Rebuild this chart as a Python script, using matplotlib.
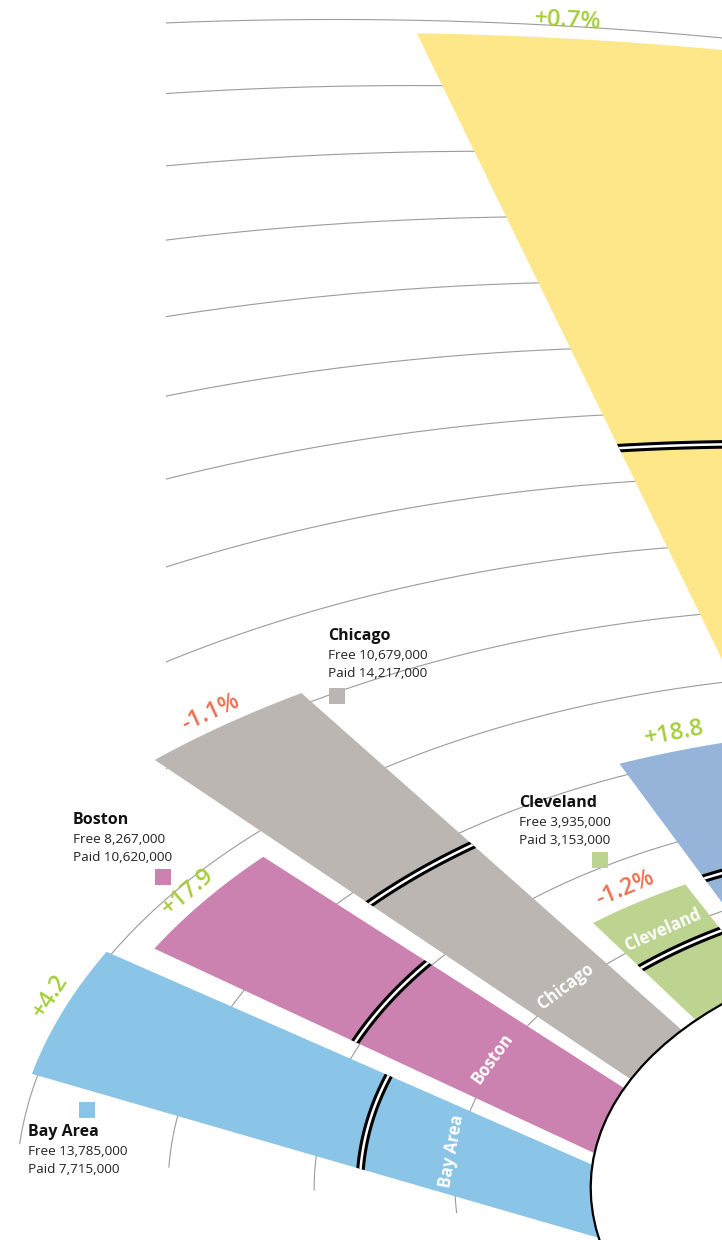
import numpy as np
import matplotlib
matplotlib.use("Agg")
import matplotlib.pyplot as plt
from matplotlib.patches import Polygon, Circle, Rectangle
from matplotlib.transforms import Transform

plt.rcParams['font.family'] = ['Open Sans', 'DejaVu Sans']

# visitors in millions (inner part = paid, whole wedge = paid + free)
cities = ["Bay Area", "Boston", "Chicago", "Cleveland", "", ""]
bar_total = [20.2, 18.85, 25.65, 7.3, 15.8, 69.0]
bar_paid = [8.4, 10.2, 14.1, 3.9, 7.3, 37.5]
change = ["+4.2", "+17.9", "-1.1%", "-1.2%", "+18.8", "+0.7%"]

# figures as printed next to the squares
free = [13785000, 8267000, 10679000, 3935000]
paid = [7715000, 10620000, 14217000, 3153000]

colors = ["#8ac4e6", "#cc82b1", "#bcb6b3", "#bdd490", "#96b4d9", "#fde789"]
green, red = "#a6cd3a", "#eb7152"

# angular span of each wedge (degrees around the wedge apex)
spans = [(44.63, 55.21), (56.84, 66.11), (67.42, 75.19), (76.91, 84.10),
         (85.45, 91.70), (93.05, 101.5)]
# where the change label sits along the outer edge (0 = first edge, 1 = second)
label_pos = [0.57, 0.5, 0.5, 0.5, 0.57, 0.44]

ring_step = 5.0                  # millions per ring
rings = np.arange(5, 75, 5)
r_zero = 3.92                    # radius of value 0 = edge of the hub
hub_r = 3.92
ring_c = np.array([-0.9146, 2.3881])   # centre of rings and hub

# the chart plane is seen tilted; this homography puts it on the page
tilt = np.array([[-131.0, -39.101, 1070.6],
                 [-2.0567, -66.781, 1374.5],
                 [-0.017741, 0.0, 1.0]])


class Tilt(Transform):
    input_dims = 2
    output_dims = 2
    is_separable = False

    def __init__(self, m):
        super().__init__()
        self.m = m

    def transform_non_affine(self, values):
        v = np.asarray(values, float)
        p = v @ self.m[:, :2].T + self.m[:, 2]
        return p[:, :2] / p[:, 2:3]


proj = Tilt(tilt)


def radius(val):
    return r_zero + np.asarray(val) / ring_step


def ray_hit(deg, R):
    e = np.array([np.cos(np.radians(deg)), np.sin(np.radians(deg))])
    ec = e @ ring_c
    t = ec + np.sqrt(ec ** 2 - ring_c @ ring_c + R ** 2)
    return t * e


def arc(d1, d2, R, n=120, pad=0.0):
    p1, p2 = ray_hit(d1, R), ray_hit(d2, R)
    f1 = np.arctan2(*(p1 - ring_c)[::-1])
    f2 = np.arctan2(*(p2 - ring_c)[::-1])
    f = np.linspace(f1 - pad, f2 + pad, n)
    return ring_c + R * np.column_stack([np.cos(f), np.sin(f)])


def tangent_angle(p):
    d = p - ring_c
    d = np.array([-d[1], d[0]]) / np.hypot(*d) * 0.02
    a, b = proj.transform(np.array([p, p + d]))
    return np.degrees(np.arctan2(-(b[1] - a[1]), b[0] - a[0]))


fig = plt.figure(figsize=(7.22, 12.4), dpi=100)
ax = fig.add_axes([0, 0, 1, 1])
ax.set_xlim(0, 722)
ax.set_ylim(1240, 0)
ax.axis('off')
tr = proj + ax.transData

# rings
clip = Polygon([(166, -10), (166, 795), (0, 1141), (740, 1258), (740, -10)],
               closed=True, transform=ax.transData)
f = np.linspace(0, 2 * np.pi, 1500)
for v in rings:
    R = radius(v)
    ln, = ax.plot(ring_c[0] + R * np.cos(f), ring_c[1] + R * np.sin(f),
                  color='#9b9b9b', lw=0.8, transform=tr, zorder=1)
    ln.set_clip_path(clip)

# wedges with the paid / free divider
for i in range(len(bar_total)):
    d1, d2 = spans[i]
    outer = arc(d1, d2, radius(bar_total[i]))
    poly = Polygon(np.vstack([[0, 0], outer]), closed=True, fc=colors[i],
                   ec='none', transform=tr, zorder=2)
    ax.add_patch(poly)
    dv = arc(d1, d2, radius(bar_paid[i]), pad=0.1)
    for lw, c in [(6.2, 'black'), (1.8, 'white')]:
        ln, = ax.plot(dv[:, 0], dv[:, 1], color=c, lw=lw, transform=tr,
                      solid_capstyle='butt', zorder=3)
        ln.set_clip_path(poly)

hub = Circle(ring_c, hub_r, fc='white', ec='black', lw=1.6, transform=tr, zorder=4)
ax.add_patch(hub)

# change labels along the outer edge, names along the first ring
for i in range(len(bar_total)):
    d1, d2 = spans[i]
    at = d1 + (d2 - d1) * label_pos[i]
    R = radius(bar_total[i])
    p = ray_hit(at, R)
    q = ray_hit(at, R + 0.05)
    P, Q = proj.transform(np.array([p, q]))
    n = (Q - P) / np.hypot(*(Q - P))
    x, y = P + n * 19
    ax.text(x, y, change[i], color=red if change[i].startswith('-') else green,
            fontsize=17, fontweight='semibold', ha='center', va='center',
            rotation=tangent_angle(p), rotation_mode='anchor', zorder=5)
    if cities[i]:
        mid = (d1 + d2) / 2
        p = ray_hit(mid, radius(5.25))
        x, y = proj.transform(p[None])[0]
        ax.text(x, y, cities[i], color='white', fontsize=12, fontweight='bold',
                ha='center', va='center', rotation=tangent_angle(p),
                rotation_mode='anchor', zorder=5)

# legend blocks
legend_xy = [(28, 1136), (73, 824), (328, 640), (519, 807)]
square_xy = [(79, 1102), (155, 869), (329, 688), (592, 852)]
for i in range(4):
    x, y = legend_xy[i]
    ax.text(x, y, cities[i], fontsize=11.5, fontweight='bold', color='#111111', va='baseline')
    ax.text(x, y + 19, f"Free {free[i]:,}", fontsize=9.7, color='#222222', va='baseline')
    ax.text(x, y + 37, f"Paid {paid[i]:,}", fontsize=9.7, color='#222222', va='baseline')
    ax.add_patch(Rectangle(square_xy[i], 16, 16, fc=colors[i], ec='none', zorder=5))

fig.savefig("out.png")
